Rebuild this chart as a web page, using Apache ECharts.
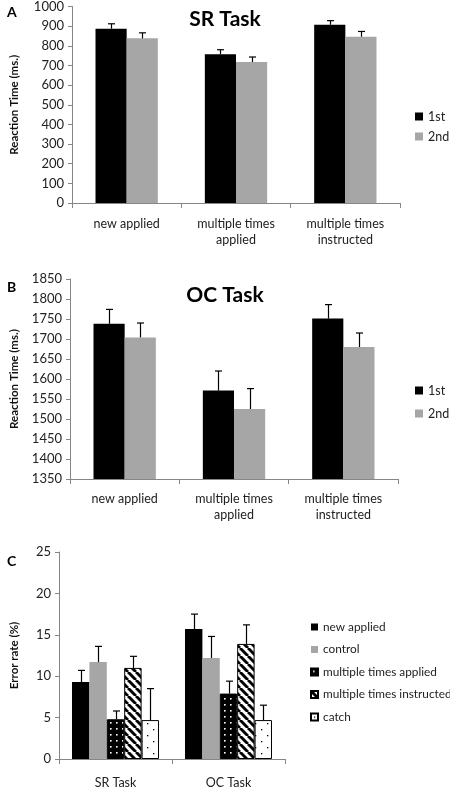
<!DOCTYPE html>
<html><head><meta charset="utf-8">
<script src="https://cdn.jsdelivr.net/npm/echarts@6/dist/echarts.min.js"></script>
<style>html,body{margin:0;padding:0;background:#fff}#c{width:450px;height:791px}</style>
</head><body><div id="c"></div>
<script>
// ---- data ----
const catsAB = ['new applied', 'multiple times\napplied', 'multiple times\ninstructed'];
const srFirst = [887, 757, 907];
const srFirstErr = [25, 23, 21];
const srSecond = [838, 717, 846];
const srSecondErr = [28, 26, 27];
const ocFirst = [1738, 1571, 1751];
const ocFirstErr = [36, 49, 35];
const ocSecond = [1704, 1525, 1680];
const ocSecondErr = [36, 51, 35];
const catsC = ['SR Task', 'OC Task'];
const cNames = ['new applied', 'control', 'multiple times applied', 'multiple times instructed', 'catch'];
const cNewApplied = [9.3, 15.7];
const cNewAppliedErr = [1.4, 1.8];
const cControl = [11.7, 12.2];
const cControlErr = [1.9, 2.6];
const cMultApplied = [4.8, 7.9];
const cMultAppliedErr = [1.0, 1.5];
const cMultInstructed = [11.0, 13.9];
const cMultInstructedErr = [1.4, 2.3];
const cCatch = [4.7, 4.7];
const cCatchErr = [3.8, 1.8];

// ---- patterns ----
function pattern(w, h, bg, draw) {
  const c = document.createElement('canvas'); c.width = w; c.height = h;
  const g = c.getContext('2d'); g.fillStyle = bg; g.fillRect(0, 0, w, h); draw(g);
  return { image: c, repeat: 'repeat' };
}
const dotsDark = pattern(6, 6, '#000', g => { g.fillStyle = '#fff'; g.fillRect(2, 2, 1.6, 1.6); });
const stripes = pattern(8, 8, '#fff', g => {
  g.strokeStyle = '#000'; g.lineWidth = 2.9;
  for (let k = -1; k <= 1; k++) { g.beginPath(); g.moveTo(k * 8, 0); g.lineTo(k * 8 + 8, 8); g.stroke(); }
});
const dotsLight = pattern(12, 12, '#fff', g => { g.fillStyle = '#000'; g.fillRect(3, 3, 1.3, 1.3); g.fillRect(9, 9, 1.3, 1.3); });

const axisColor = '#868686';
const font = 'Lato';

function errSeries(ai, vals, errs, idx, n, gap) {
  return {
    type: 'custom', xAxisIndex: ai, yAxisIndex: ai, z: 10, silent: true,
    data: vals.map((v, i) => [i, v, v + errs[i]]),
    renderItem: (params, api) => {
      const band = api.size([1, 0])[0];
      const grp = band * (1 - gap);
      const bw = grp / n;
      const off = -grp / 2 + bw * (idx + 0.5);
      const p0 = api.coord([api.value(0), api.value(1)]);
      const p1 = api.coord([api.value(0), api.value(2)]);
      const x = Math.round(p0[0] + off) + 0.5;
      const st = { stroke: '#000', lineWidth: 1.2 };
      return { type: 'group', children: [
        { type: 'line', shape: { x1: x, y1: p0[1], x2: x, y2: p1[1] }, style: st },
        { type: 'line', shape: { x1: x - 3.5, y1: p1[1], x2: x + 3.5, y2: p1[1] }, style: st }
      ] };
    }
  };
}

function xAx(gi, cats, margin) {
  return {
    type: 'category', gridIndex: gi, data: cats,
    axisLine: { lineStyle: { color: axisColor, width: 1 } },
    axisTick: { show: true, length: 5, lineStyle: { color: axisColor } },
    axisLabel: { color: '#222', fontSize: 12.5, fontFamily: font, lineHeight: 16, margin: margin, interval: 0 }
  };
}
function yAx(gi, min, max, interval, name, nameGap) {
  return {
    type: 'value', gridIndex: gi, min: min, max: max, interval: interval,
    name: name, nameLocation: 'middle', nameGap: nameGap,
    nameTextStyle: { fontWeight: 'bold', fontSize: 11.5, color: '#111', fontFamily: font },
    axisLine: { show: true, lineStyle: { color: axisColor } },
    axisTick: { show: true, length: 4, lineStyle: { color: axisColor } },
    splitLine: { show: false },
    axisLabel: { color: '#222', fontSize: 13, fontFamily: font, margin: 8, formatter: v => String(v) }
  };
}

const gapAB = 0.43, gapC = 0.23;
function bar(ai, name, data, color, gap, extra) {
  return Object.assign({
    type: 'bar', name: name, xAxisIndex: ai, yAxisIndex: ai, data: data,
    barGap: '0%', barCategoryGap: (gap * 100) + '%',
    itemStyle: { color: color }
  }, extra || {});
}

const option = {
  animation: false,
  textStyle: { fontFamily: font },
  title: [
    { text: 'SR Task', left: 'center', top: 4, textStyle: { fontSize: 21, fontWeight: 'bold', color: '#000', fontFamily: font } },
    { text: 'OC Task', left: 'center', top: 280, textStyle: { fontSize: 21, fontWeight: 'bold', color: '#000', fontFamily: font } },
    { text: 'A', left: 2, top: 0, textStyle: { fontSize: 14, fontWeight: 'bold', color: '#000', fontFamily: font } },
    { text: 'B', left: 2, top: 275, textStyle: { fontSize: 14, fontWeight: 'bold', color: '#000', fontFamily: font } },
    { text: 'C', left: 2, top: 549, textStyle: { fontSize: 14, fontWeight: 'bold', color: '#000', fontFamily: font } }
  ],
  legend: [
    { data: ['1st', '2nd'], orient: 'vertical', left: 410, top: 105, itemWidth: 8, itemHeight: 8, itemGap: 7, icon: 'rect',
      textStyle: { fontSize: 12.5, color: '#222', fontFamily: font }, selectedMode: false },
    { data: ['1st', '2nd'], orient: 'vertical', left: 410, top: 379, itemWidth: 8, itemHeight: 8, itemGap: 10, icon: 'rect',
      textStyle: { fontSize: 12.5, color: '#222', fontFamily: font }, selectedMode: false },
    { data: cNames, orient: 'vertical', left: 305, top: 616, itemWidth: 7, itemHeight: 7, itemGap: 10.5, icon: 'rect',
      textStyle: { fontSize: 11.8, color: '#222', fontFamily: font }, selectedMode: false }
  ],
  grid: [
    { left: 72, top: 5, width: 328, height: 198 },
    { left: 70, top: 279, width: 328, height: 200 },
    { left: 59, top: 552, width: 226, height: 215 }
  ],
  xAxis: [xAx(0, catsAB, 13), xAx(1, catsAB, 12), xAx(2, catsC, 16)],
  yAxis: [
    yAx(0, 0, 1000, 100, 'Reaction Time (ms.)', 52),
    yAx(1, 1350, 1850, 50, 'Reaction Time (ms.)', 50),
    yAx(2, 0, 25, 5, 'Error rate (%)', 39)
  ],
  series: [
    bar(0, '1st', srFirst, '#000', gapAB),
    bar(0, '2nd', srSecond, '#a6a6a6', gapAB),
    errSeries(0, srFirst, srFirstErr, 0, 2, gapAB),
    errSeries(0, srSecond, srSecondErr, 1, 2, gapAB),
    bar(1, '1st', ocFirst, '#000', gapAB),
    bar(1, '2nd', ocSecond, '#a6a6a6', gapAB),
    errSeries(1, ocFirst, ocFirstErr, 0, 2, gapAB),
    errSeries(1, ocSecond, ocSecondErr, 1, 2, gapAB),
    bar(2, cNames[0], cNewApplied, '#000', gapC),
    bar(2, cNames[1], cControl, '#a6a6a6', gapC),
    bar(2, cNames[2], cMultApplied, dotsDark, gapC, { itemStyle: { color: dotsDark, borderColor: '#000', borderWidth: 1 } }),
    bar(2, cNames[3], cMultInstructed, stripes, gapC, { itemStyle: { color: stripes, borderColor: '#000', borderWidth: 1 } }),
    bar(2, cNames[4], cCatch, dotsLight, gapC, { itemStyle: { color: dotsLight, borderColor: '#000', borderWidth: 1 } }),
    errSeries(2, cNewApplied, cNewAppliedErr, 0, 5, gapC),
    errSeries(2, cControl, cControlErr, 1, 5, gapC),
    errSeries(2, cMultApplied, cMultAppliedErr, 2, 5, gapC),
    errSeries(2, cMultInstructed, cMultInstructedErr, 3, 5, gapC),
    errSeries(2, cCatch, cCatchErr, 4, 5, gapC)
  ]
};
const chart = echarts.init(document.getElementById('c'), null, { renderer: 'canvas' });
chart.setOption(option);
</script></body></html>
